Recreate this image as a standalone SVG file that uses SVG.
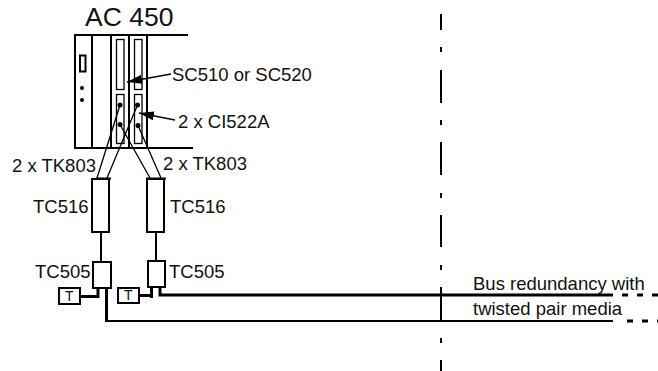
<svg xmlns="http://www.w3.org/2000/svg" width="658" height="371" viewBox="0 0 658 371">
<style>
text{font-family:"Liberation Sans",Arial,sans-serif;font-size:18.5px;fill:#111}
.l{fill:none;stroke:#000;stroke-width:1.3}
.m{fill:none;stroke:#000;stroke-width:2}
.h{fill:none;stroke:#000;stroke-width:3}
.b{fill:#fff;stroke:#000;stroke-width:2}
.t{font-size:14px}
</style>
<defs><marker id="a" markerWidth="15" markerHeight="9" refX="15" refY="4.500" orient="auto" markerUnits="userSpaceOnUse"><path d="M0 0L15 4.500L0 9Z" fill="#000"/></marker></defs>
<g id="ac450">
<text x="85" y="26" style="font-size:26.500px">AC 450</text>
<path class="m" d="M188 35H75V148H193M92 35V148M111 35V148M129 35V148M147 35V148"/>
<rect class="m" x="80" y="55.500" width="5.500" height="16"/>
<circle cx="82" cy="88" r="2"/><circle cx="82" cy="100" r="2"/>
<rect class="l" x="116.500" y="39.500" width="7.500" height="50"/>
<rect class="l" x="134.500" y="39.500" width="7.500" height="50"/>
<rect class="l" x="116.500" y="94.500" width="7.500" height="49"/>
<rect class="l" x="134.500" y="94.500" width="7.500" height="49"/>
<circle cx="120" cy="105" r="2.500"/><circle cx="120" cy="124.500" r="2.500"/><circle cx="137.500" cy="105" r="2.500"/><circle cx="138" cy="125.500" r="2.500"/>
<path class="l" d="M120 105L97 178M137.500 105L107 178M120 124.500L150 178M138 125.500L161 178"/>
<path class="m" d="M96 178.500H111M146 178.500H166"/>
</g>
<g id="tc516a"><rect class="b" x="92" y="179" width="17" height="53"/><text x="33" y="213">TC516</text></g>
<g id="tc516b"><rect class="b" x="147" y="179" width="17" height="53"/><text x="170" y="213">TC516</text></g>
<g id="tc505a"><rect class="b" x="93" y="262" width="18" height="26"/><text x="35" y="278">TC505</text></g>
<g id="tc505b"><rect class="b" x="148" y="261" width="17" height="26"/><text x="169" y="278">TC505</text></g>
<g id="ta"><rect class="b" x="59" y="288" width="21" height="16"/><text x="65" y="301" class="t">T</text></g>
<g id="tb"><rect class="b" x="118" y="288" width="21" height="15"/><text x="124" y="300" class="t">T</text></g>
<g id="connectors">
<path class="m" d="M101 232V262M156 232V261"/>
<path class="h" d="M80 296.500H98V288M139 295.500H151.500M151.500 287V298"/>
<path class="h" d="M106.500 288V322"/>
<path class="m" d="M106 321H613"/>
<path class="h" d="M160 287V295H613"/>
<path class="h" stroke-dasharray="6 9" d="M622 295H660"/>
<path class="h" stroke-dasharray="6 9" d="M627 321H660"/>
<path class="m" d="M441 14V30M441 47V52M441 70V103M441 120V125M441 142V175M441 193V198M441 215V247M441 265V270M441 287V321M441 338V343M441 360V371"/>
<path class="l" marker-end="url(#a)" d="M171 74L127 82"/>
<path class="l" marker-end="url(#a)" d="M175 120L139 113"/>
</g>
<g id="labels">
<text x="172" y="81">SC510 or SC520</text>
<text x="178" y="128">2 x CI522A</text>
<text x="12" y="172">2 x TK803</text>
<text x="163" y="170">2 x TK803</text>
<text x="473" y="290">Bus redundancy with</text>
<text x="473" y="315">twisted pair media</text>
</g>
</svg>
